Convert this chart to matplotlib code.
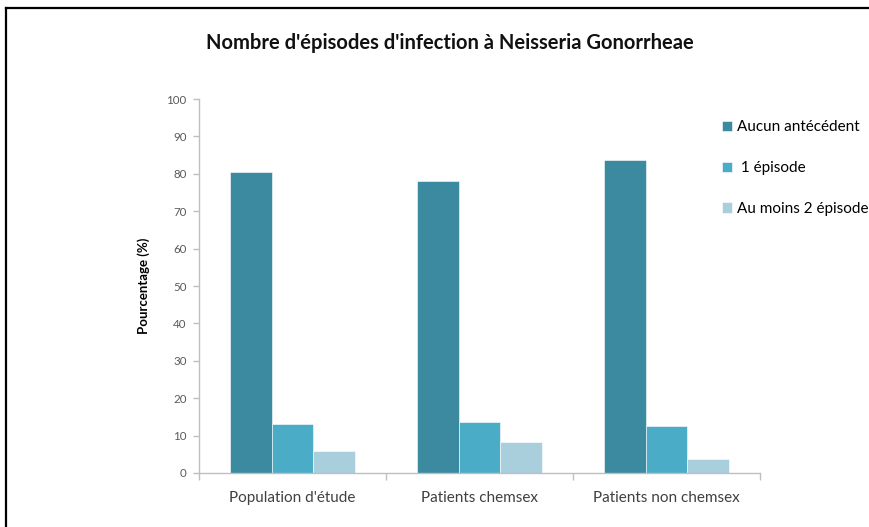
import matplotlib.pyplot as plt
import numpy as np
from matplotlib.lines import Line2D

plt.rcParams['font.family'] = ['Lato', 'DejaVu Sans']

# Data
groups = ["Population d'étude", "Patients chemsex", "Patients non chemsex"]
series_names = ["Aucun antécédent", " 1 épisode", "Au moins 2 épisodes"]
aucun = [80.6, 78.1, 83.6]
un_episode = [13.1, 13.6, 12.5]
deux_plus = [5.8, 8.2, 3.7]
colors = ['#3C8AA0', '#4AACC6', '#A9CFDC']

fig = plt.figure(figsize=(8.7, 5.27), dpi=100)
ax = fig.add_axes([0.2287, 0.1025, 0.6449, 0.7096])

x = np.arange(len(groups))
w = 0.222
for k, (vals, name) in enumerate(zip([aucun, un_episode, deux_plus], series_names)):
    ax.bar(x + (k - 1) * w, vals, width=w, color=colors[k], label=name,
           edgecolor='white', linewidth=0.4)

ax.set_xlim(-0.5, len(groups) - 0.5)
ax.set_ylim(0, 100)
ax.set_yticks(np.arange(0, 101, 10))
ax.set_xticks(x)
ax.set_xticklabels(groups, fontsize=11, color='#404040')
ax.set_xticks(np.arange(-0.5, len(groups)), minor=True)
ax.tick_params(axis='x', which='major', length=0, pad=13)
ax.tick_params(axis='x', which='minor', length=5, color='#BFBFBF', width=1)
ax.tick_params(axis='y', length=4, color='#BFBFBF', width=1, labelsize=8.3,
               labelcolor='#595959', pad=5)

for s in ['top', 'right']:
    ax.spines[s].set_visible(False)
for s in ['left', 'bottom']:
    ax.spines[s].set_color('#BFBFBF')
    ax.spines[s].set_linewidth(1)

ax.set_ylabel('Pourcentage (%)', fontsize=9.5, fontweight='bold', labelpad=12)

fig.text(0.517, 0.918, "Nombre d'épisodes d'infection à Neisseria Gonorrheae",
         ha='center', va='center', fontsize=14.5, fontweight='bold', color='#111111')

# legend runs past the right edge, as in the reference
leg = ax.legend(loc='upper left', bbox_to_anchor=(0.823, 0.783),
                bbox_transform=fig.transFigure, frameon=False, fontsize=11,
                handlelength=0.65, handleheight=0.65, handletextpad=0.35,
                labelspacing=1.75, borderaxespad=0)

# black frame along the top and left edges
fig.add_artist(Line2D([6 / 870, 6 / 870], [0, 1 - 7.5 / 527],
                      transform=fig.transFigure, color='black', lw=1.6))
fig.add_artist(Line2D([6 / 870, 1], [1 - 7.5 / 527, 1 - 7.5 / 527],
                      transform=fig.transFigure, color='black', lw=1.6))

fig.savefig('out.png', dpi=100)
